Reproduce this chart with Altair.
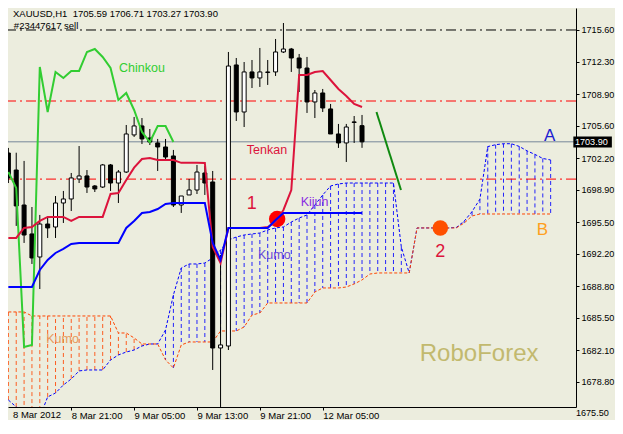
import altair as alt
import pandas as pd

# ---------------- data ----------------
open_ = [1702.73, 1700.95, 1697.29, 1694.26, 1691.85, 1695.30, 1694.99, 1697.50, 1697.92, 1700.01,
         1700.33, 1699.28, 1699.17, 1701.48, 1699.59, 1700.74, 1704.62, 1705.56, 1704.30, 1703.78,
         1703.36, 1702.42, 1697.29, 1698.34, 1698.86, 1700.64, 1699.70, 1682.33, 1682.54, 1711.94,
         1707.02, 1711.21, 1710.58, 1711.15, 1711.21, 1713.30, 1713.61, 1712.67, 1711.62, 1708.07,
         1709.01, 1707.34, 1704.72, 1703.78, 1705.98, 1705.59]
high = [1703.26, 1702.76, 1701.90, 1697.08, 1696.25, 1696.04, 1698.23, 1698.76, 1700.64, 1703.46,
        1700.95, 1699.38, 1701.58, 1701.58, 1700.95, 1705.66, 1706.50, 1706.39, 1705.24, 1704.20,
        1704.20, 1703.05, 1698.23, 1700.01, 1701.48, 1701.37, 1700.85, 1692.06, 1713.30, 1712.67,
        1712.25, 1712.46, 1713.72, 1712.46, 1714.66, 1716.33, 1713.72, 1713.09, 1712.78, 1709.32,
        1709.43, 1707.86, 1705.77, 1705.77, 1706.60, 1706.71]
low = [1699.59, 1695.10, 1693.32, 1691.12, 1688.50, 1693.84, 1693.84, 1695.41, 1696.66, 1699.59,
       1698.55, 1698.65, 1699.07, 1698.76, 1697.50, 1700.64, 1704.41, 1703.67, 1703.57, 1700.85,
       1702.00, 1697.08, 1696.46, 1698.34, 1698.44, 1698.34, 1680.03, 1676.16, 1682.12, 1706.08,
       1705.45, 1709.53, 1709.64, 1709.85, 1710.79, 1713.19, 1711.21, 1709.11, 1706.92, 1706.39,
       1707.02, 1704.72, 1703.26, 1701.79, 1703.78, 1703.27]
close = [1700.12, 1697.19, 1694.15, 1691.75, 1695.30, 1694.89, 1697.50, 1697.92, 1700.12, 1700.33,
         1699.17, 1698.97, 1701.48, 1699.59, 1700.74, 1704.72, 1705.56, 1704.20, 1703.88, 1703.36,
         1702.31, 1697.29, 1698.23, 1698.86, 1700.74, 1699.59, 1682.33, 1682.65, 1711.83, 1707.02,
         1711.21, 1710.58, 1711.21, 1711.21, 1713.30, 1713.61, 1712.67, 1711.62, 1708.07, 1709.01,
         1707.44, 1704.72, 1703.78, 1705.45, 1705.93, 1703.90]

tenkan = [1693.84, 1693.84, 1694.89, 1694.99, 1695.62, 1696.04, 1696.04, 1696.04, 1695.62, 1696.04,
          1696.04, 1696.04, 1696.04, 1698.44, 1698.55, 1699.90, 1701.20, 1702.10, 1702.20, 1702.00,
          1702.00, 1702.00, 1701.70, 1701.70, 1701.70, 1701.69, 1692.90, 1691.22, 1694.89, 1694.89,
          1694.89, 1694.89, 1694.89, 1694.99, 1695.51, 1696.77, 1698.86, 1710.89, 1710.89, 1711.21,
          1711.31, 1710.37, 1709.43, 1708.70, 1707.86, 1707.54]
kijun = [1688.71, 1688.71, 1688.71, 1688.71, 1690.49, 1691.54, 1692.27, 1692.69, 1693.21, 1693.32,
         1693.32, 1693.32, 1693.32, 1693.32, 1693.32, 1694.89, 1695.62, 1696.46, 1696.56, 1696.87,
         1697.40, 1697.50, 1697.50, 1697.50, 1697.50, 1697.50, 1693.32, 1691.54, 1694.89, 1694.89,
         1694.89, 1694.89, 1694.89, 1694.89, 1695.72, 1696.46, 1696.46, 1696.46, 1696.46, 1696.46,
         1696.46, 1696.46, 1696.46, 1696.46, 1696.46, 1696.46]
chinkou = [1700.74, 1699.07, 1682.44, 1682.65, 1711.73, 1707.02, 1711.21, 1710.58, 1711.31, 1711.31,
           1713.30, 1713.61, 1712.78, 1711.62, 1708.28, 1709.01, 1707.23, 1704.93, 1703.88, 1705.56,
           1705.56, 1703.88]
senkou_a = [1676.89, 1676.16, 1675.64, 1675.10, 1675.10, 1677.21, 1677.62, 1678.46, 1679.09, 1679.93,
            1680.03, 1680.03, 1680.03, 1681.08, 1681.60, 1681.91, 1682.12, 1682.54, 1682.75, 1682.75,
            1684.22, 1687.88, 1690.70, 1691.12, 1691.12, 1691.22, 1691.75, 1692.58, 1693.63, 1693.94,
            1694.15, 1694.26, 1694.36, 1694.68, 1694.89, 1694.99, 1695.51, 1695.93, 1696.25, 1697.29,
            1698.34, 1699.28, 1699.49, 1699.59, 1699.59, 1699.59, 1699.59, 1699.59, 1699.59, 1699.59,
            1692.90, 1690.18, 1694.89, 1694.89, 1694.89, 1694.89, 1694.89, 1694.94, 1695.60, 1696.60,
            1697.90, 1703.40, 1703.60, 1703.70, 1703.70, 1703.42, 1702.95, 1702.58, 1702.16, 1702.00]
senkou_b = [1686.10, 1686.10, 1686.10, 1685.68, 1685.68, 1685.68, 1685.68, 1685.68, 1685.68, 1685.68,
            1685.68, 1685.68, 1685.68, 1685.68, 1683.90, 1683.90, 1683.38, 1682.75, 1682.75, 1682.75,
            1681.08, 1680.24, 1682.65, 1682.96, 1682.96, 1682.96, 1682.96, 1684.11, 1684.11, 1684.11,
            1684.53, 1685.78, 1685.99, 1687.04, 1687.04, 1687.04, 1687.04, 1687.04, 1687.04, 1688.19,
            1688.61, 1688.61, 1688.61, 1688.71, 1689.03, 1689.45, 1690.07, 1690.18, 1690.18, 1690.18,
            1690.18, 1690.18, 1694.89, 1694.89, 1694.89, 1694.89, 1694.89, 1694.89, 1695.41, 1696.14,
            1696.35, 1696.35, 1696.35, 1696.35, 1696.35, 1696.35, 1696.35, 1696.35, 1696.35, 1696.35]

y_ticks = [1715.60, 1712.30, 1708.90, 1705.60, 1702.20, 1698.90, 1695.50, 1692.20,
           1688.80, 1685.50, 1682.10, 1678.80, 1675.50]
x_tick_bars = [8, 16, 24, 32, 40]
x_tick_labels = ["8 Mar 21:00", "9 Mar 05:00", "9 Mar 13:00", "9 Mar 21:00", "12 Mar 05:00"]
first_label = "8 Mar 2012"

level_black = [1715.60]
level_red = [1708.17, 1700.00]
last_price = 1703.90

trend_bar = [46.84, 49.96]
trend_price = [1707.02, 1698.86]

# ---------------- frames ----------------
df_c = pd.DataFrame({"i": list(range(len(open_))), "open": open_, "high": high,
                     "low": low, "close": close})
df_c["dir"] = ["up" if c >= o else "down" for o, c in zip(open_, close)]
df_t = pd.DataFrame({"i": list(range(len(tenkan))), "p": tenkan})
df_kj = pd.DataFrame({"i": list(range(len(kijun))), "p": kijun})
df_ch = pd.DataFrame({"i": list(range(len(chinkou))), "p": chinkou})
df_k = pd.DataFrame({"i": list(range(len(senkou_a))), "a": senkou_a, "b": senkou_b})
df_k["side"] = ["A" if a >= b else "B" for a, b in zip(senkou_a, senkou_b)]

FONT = "Liberation Sans"
AX_FS = 9.1
Y_TOP = 1717.90
Y_BOT = 1676.157
X_LEFT = 0.59
X_RIGHT = 71.59
xs = alt.Scale(domain=[X_LEFT, X_RIGHT], nice=False, zero=False)
ys = alt.Scale(domain=[Y_BOT, Y_TOP], nice=False, zero=False)

expr = "''"
for v, l in reversed(list(zip(x_tick_bars, x_tick_labels))):
    expr = f"datum.value == {v} ? '{l}' : ({expr})"

xaxis = alt.Axis(values=x_tick_bars, labelExpr=expr, title=None, grid=False,
                 tickSize=3, labelAlign="left", labelBaseline="top", labelPadding=0,
                 labelFont=FONT, labelFontSize=9.5, labelColor="black",
                 domainColor="black", tickColor="black", labelOverlap=False)
yaxis = alt.Axis(orient="right", values=y_ticks, format=".2f", title=None, grid=False,
                 tickSize=3, labelPadding=2, labelAlign="left", labelBaseline="middle",
                 labelFont=FONT, labelFontSize=AX_FS, labelColor="black",
                 domainColor="black", tickColor="black", labelOverlap=False)


def X(f="i"):
    return alt.X(f"{f}:Q", scale=xs, axis=xaxis)


def Y(f="p"):
    return alt.Y(f"{f}:Q", scale=ys, axis=yaxis)


layers = []

# Kumo hatching
layers.append(alt.Chart(df_k).mark_rule(strokeDash=[4, 3], strokeWidth=1, clip=True, opacity=0.85).encode(
    x=X(), y=Y("a"), y2="b:Q",
    color=alt.Color("side:N", scale=alt.Scale(domain=["A", "B"], range=["#0000ff", "#ff4500"]), legend=None)))
layers.append(alt.Chart(df_k).mark_line(color="#0000ff", strokeDash=[3, 2], strokeWidth=1, clip=True).encode(
    x=X(), y=Y("a")))
layers.append(alt.Chart(df_k).mark_line(color="#ff4500", strokeDash=[3, 2], strokeWidth=1, clip=True).encode(
    x=X(), y=Y("b")))

# horizontal levels
layers.append(alt.Chart(pd.DataFrame({"p": level_black})).mark_rule(
    color="black", strokeDash=[10, 4, 2, 4], strokeWidth=1).encode(y=Y()))
layers.append(alt.Chart(pd.DataFrame({"p": level_red})).mark_rule(
    color="#ff0000", strokeDash=[10, 4, 2, 4], strokeWidth=1).encode(y=Y()))
layers.append(alt.Chart(pd.DataFrame({"p": [last_price]})).mark_rule(
    color="#778899", strokeWidth=1).encode(y=Y()))

# circles
layers.append(alt.Chart(pd.DataFrame({"i": [34.2], "p": [1695.83]})).mark_point(
    filled=True, shape="circle", size=270, color="#ff0000", opacity=1).encode(x=X(), y=Y()))
layers.append(alt.Chart(pd.DataFrame({"i": [54.96], "p": [1694.89]})).mark_point(
    filled=True, shape="circle", size=240, color="#ff5000", opacity=1).encode(x=X(), y=Y()))

# candles
layers.append(alt.Chart(df_c).mark_rule(color="black", strokeWidth=1, clip=True).encode(
    x=X(), y=Y("low"), y2="high:Q"))
layers.append(alt.Chart(df_c).mark_bar(size=4, stroke="black", strokeWidth=1, clip=True).encode(
    x=X(), y=Y("open"), y2="close:Q",
    fill=alt.Fill("dir:N", scale=alt.Scale(domain=["up", "down"], range=["white", "black"]), legend=None)))

# indicator lines
layers.append(alt.Chart(df_ch).mark_line(color="#32cd32", strokeWidth=2, clip=True).encode(x=X(), y=Y()))
layers.append(alt.Chart(df_t).mark_line(color="#dc143c", strokeWidth=2, clip=True).encode(x=X(), y=Y()))
layers.append(alt.Chart(df_kj).mark_line(color="#0000ff", strokeWidth=2, clip=True).encode(x=X(), y=Y()))

# trend line
layers.append(alt.Chart(pd.DataFrame({"i": trend_bar, "p": trend_price})).mark_line(
    color="#108a10", strokeWidth=2).encode(x=X(), y=Y()))


def txt(label, i, p, color, size, align="center", baseline="middle", font=FONT):
    return alt.Chart(pd.DataFrame({"i": [i], "p": [p], "t": [label]})).mark_text(
        color=color, fontSize=size, font=font, align=align, baseline=baseline).encode(
        x=X(), y=Y(), text="t:N")


layers += [
    txt("Chinkou", 17.0, 1711.62, "#32cd32", 12.5),
    txt("Tenkan", 32.9, 1703.05, "#dc143c", 12.5),
    txt("Kijun", 38.96, 1697.61, "#8a2be2", 12.5),
    txt("Kumo", 33.84, 1692.06, "#6a4ad8", 12.5),
    txt("Kumo", 6.9, 1683.27, "#e79a5c", 12.5),
    txt("1", 30.96, 1697.40, "#dc143c", 18),
    txt("2", 54.96, 1692.37, "#dc143c", 18),
    txt("A", 68.88, 1704.51, "#2020d0", 17),
    txt("B", 67.96, 1694.68, "#ffa020", 17),
    txt("RoboForex", 59.9, 1681.70, "#c2b96e", 24),
    txt("XAUUSD,H1\u00a0 1705.59 1706.71 1703.27 1703.90", X_LEFT, 1717.30, "black", 9.5, align="left"),
    txt("#23447617 sell", 0.70, 1716.05, "black", 9.5, align="left"),
    txt(first_label, X_LEFT, 1675.84, "black", 9.5, align="left", baseline="top"),
    txt("1675.50", X_RIGHT + 0.63, 1675.50, "black", AX_FS, align="left"),
]

# last price box on the axis
layers.append(alt.Chart(pd.DataFrame({"i": [X_RIGHT + 0.3], "i2": [X_RIGHT + 5.2],
                                      "p": [1704.46], "p2": [1703.31]})).mark_rect(
    color="black").encode(x=X(), x2="i2:Q", y=Y(), y2="p2:Q"))
layers.append(txt("1703.90", X_RIGHT + 0.5, last_price, "white", AX_FS, align="left"))

chart = alt.layer(*layers).properties(
    width=568, height=399,
    autosize=alt.AutoSizeParams(type="none"),
    padding={"left": 0, "top": 0, "right": 39, "bottom": 13},
    background="#ecedde",
).configure_view(fill="#ecedde", stroke="transparent")

chart.save("out.html", embed_options={"renderer": "svg", "actions": False})
